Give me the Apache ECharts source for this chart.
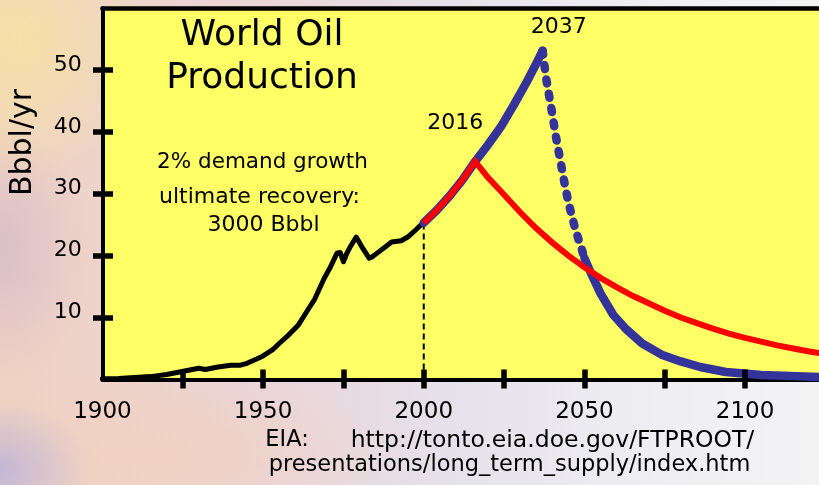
<!DOCTYPE html>
<html>
<head>
<meta charset="utf-8">
<title>World Oil Production</title>
<script src="https://cdn.jsdelivr.net/npm/echarts@6/dist/echarts.min.js"></script>
<style>
  html, body { margin: 0; padding: 0; }
  body {
    width: 819px; height: 485px; overflow: hidden;
    background:
      radial-gradient(ellipse 130px 150px at 20px 40px, rgba(246,226,166,0.95), rgba(246,226,166,0)),
      radial-gradient(ellipse 90px 130px at 0px 250px, rgba(216,188,202,0.9), rgba(216,188,202,0)),
      radial-gradient(ellipse 90px 70px at 0px 470px, rgba(186,178,216,0.85), rgba(186,178,216,0)),
      radial-gradient(ellipse 240px 90px at 150px 455px, rgba(242,210,192,0.9), rgba(242,210,192,0)),
      linear-gradient(90deg, #efd2c2 0%, #ead5d9 32%, #e5e1ea 55%, #eeeef2 78%, #f3f3f4 100%);
  }
  #chart { width: 819px; height: 485px; }
</style>
</head>
<body>
<div id="chart"></div>
<script>
// Historical world oil production, Bbbl/yr
const historyYears = [1900, 1905, 1910, 1915, 1920, 1924, 1928, 1930, 1932, 1936, 1940, 1943, 1945, 1948,
  1950, 1953, 1955, 1958, 1961, 1964, 1966, 1969, 1971, 1973, 1974, 1975, 1976, 1977, 1979, 1981,
  1983, 1984, 1986, 1988, 1990, 1993, 1995, 1997, 1999, 2000];
const historyValues = [0.1, 0.15, 0.3, 0.45, 0.8, 1.2, 1.6, 1.8, 1.6, 2.0, 2.3, 2.3, 2.6, 3.3,
  3.8, 4.8, 5.8, 7.2, 8.8, 11.3, 12.9, 16.3, 18.2, 20.4, 20.5, 19.0, 20.3, 21.3, 23.0, 21.2,
  19.6, 19.8, 20.6, 21.4, 22.2, 22.4, 23.0, 23.9, 24.9, 25.3];

// Projection with 2% demand growth (shared by both scenarios until their peaks)
const growthYears = [2000, 2004, 2008, 2012, 2016, 2020, 2024, 2028, 2032, 2035, 2037];
const growthValues = [25.3, 27.3, 29.6, 32.2, 35.2, 37.9, 40.8, 44.3, 48.0, 51.0, 53.1];

// Early peak (2016) and gradual decline
const redPeakYear = 2016;
const redDeclineYears = [2020, 2024, 2030, 2035, 2040, 2045, 2050, 2055, 2060, 2065, 2070, 2075,
  2080, 2085, 2090, 2095, 2100, 2105, 2110, 2115, 2120, 2125];
const redDeclineValues = [32.6, 30.4, 27.0, 24.4, 22.1, 20.0, 18.1, 16.4, 14.9, 13.5, 12.3, 11.1,
  10.0, 9.1, 8.2, 7.4, 6.7, 6.1, 5.5, 5.0, 4.5, 4.1];

// Late peak (2037) and steep decline
const bluePeakYear = 2037;
const blueDeclineYears = [2038, 2039, 2040, 2041, 2042, 2043, 2044, 2045, 2046, 2047, 2048, 2049,
  2050, 2052, 2055, 2059, 2063, 2068, 2074, 2080, 2086, 2094, 2105, 2125];
const blueDeclineValues = [48.9, 45.9, 42.9, 39.6, 36.8, 34.0, 31.2, 28.6, 26.6, 24.6, 22.9, 21.3,
  19.6, 17.2, 13.9, 10.4, 8.1, 5.8, 4.0, 2.9, 2.0, 1.2, 0.7, 0.35];
const blueDashedUntil = 2050;

// Axis ticks and labels
const xTickValues = [1925, 1950, 1975, 2000, 2025, 2050, 2075, 2100];
const xLabelValues = [1900, 1950, 2000, 2050, 2100];
const yTickValues = [10, 20, 30, 40, 50];

const zip = (xs, ys) => xs.map((x, i) => [x, ys[i]]);

const history = zip(historyYears, historyValues);
const growth = zip(growthYears, growthValues);
const red = growth.filter(p => p[0] <= redPeakYear).concat(zip(redDeclineYears, redDeclineValues));
const blueAll = growth.concat(zip(blueDeclineYears, blueDeclineValues));
const blueRise = blueAll.filter(p => p[0] <= bluePeakYear);
const blueDrop = blueAll.filter(p => p[0] >= bluePeakYear && p[0] <= blueDashedUntil);
const blueTail = blueAll.filter(p => p[0] >= blueDashedUntil);
const redPeak = red.find(p => p[0] === redPeakYear);
const bluePeak = blueAll.find(p => p[0] === bluePeakYear);

const FONT = 'DejaVu Sans';
const BLUE = '#333399';
const RED = '#ff0000';

// The plotting area runs off the right edge of the page
const xBase = {
  type: 'value', min: 1900, max: 2123, position: 'bottom',
  splitLine: { show: false }
};
const yBase = {
  type: 'value', min: 0, max: 60, interval: 10, position: 'left',
  splitLine: { show: false }
};

const chart = echarts.init(document.getElementById('chart'), null, { renderer: 'canvas' });
chart.setOption({
  animation: false,
  backgroundColor: 'transparent',
  grid: {
    left: 102.4, top: 8, right: 0, height: 371.4,
    show: true, backgroundColor: '#ffff66', borderWidth: 0
  },
  xAxis: [
    Object.assign({}, xBase, {
      axisLine: { show: true, onZero: false, lineStyle: { color: '#000', width: 4 } },
      axisTick: { show: true, inside: false, length: 9, customValues: xTickValues,
        lineStyle: { color: '#000', width: 5.5 } },
      axisLabel: { show: true, customValues: xLabelValues, margin: 21.5, color: '#000',
        fontFamily: FONT, fontSize: 23, formatter: v => String(v) }
    }),
    Object.assign({}, xBase, {
      z: 10,
      axisLine: { show: false, onZero: false },
      axisTick: { show: true, inside: true, length: 10, customValues: xTickValues,
        lineStyle: { color: '#000', width: 5.5 } },
      axisLabel: { show: false }
    }),
    Object.assign({}, xBase, {
      position: 'top',
      axisLine: { show: true, onZero: false, lineStyle: { color: '#000', width: 4.5 } },
      axisTick: { show: false },
      axisLabel: { show: false }
    })
  ],
  yAxis: [
    Object.assign({}, yBase, {
      axisLine: { show: true, onZero: false, lineStyle: { color: '#000', width: 4 } },
      axisTick: { show: true, inside: false, length: 9.4, customValues: yTickValues,
        lineStyle: { color: '#000', width: 5.5 } },
      axisLabel: { show: true, customValues: yTickValues, margin: 20.7, color: '#000',
        fontFamily: FONT, fontSize: 22, verticalAlign: 'bottom', lineHeight: 10 }
    }),
    Object.assign({}, yBase, {
      z: 10,
      axisLine: { show: false, onZero: false },
      axisTick: { show: true, inside: true, length: 10.6, customValues: yTickValues,
        lineStyle: { color: '#000', width: 5.5 } },
      axisLabel: { show: false }
    })
  ],
  series: [
    {
      name: 'start of projection', type: 'line', silent: true, symbol: 'none',
      data: [[growth[0][0], 0], growth[0]],
      lineStyle: { color: '#000', width: 2, type: [6, 4] }
    },
    {
      name: 'history', type: 'line', symbol: 'none', data: history,
      lineStyle: { color: '#000', width: 5, join: 'round', cap: 'round' }
    },
    {
      name: 'late peak rise', type: 'line', symbol: 'none', data: blueRise,
      lineStyle: { color: BLUE, width: 8.5, join: 'round', cap: 'round' }
    },
    {
      name: 'late peak decline', type: 'line', symbol: 'none', data: blueDrop,
      lineStyle: { color: BLUE, width: 8.5, type: [4, 10.5], cap: 'round', join: 'round' }
    },
    {
      name: 'late peak tail', type: 'line', symbol: 'none', data: blueTail,
      lineStyle: { color: BLUE, width: 8.5, join: 'round', cap: 'round' }
    },
    {
      name: 'early peak', type: 'line', symbol: 'none', data: red,
      lineStyle: { color: RED, width: 6, join: 'miter' }
    },
    {
      name: 'peak years', type: 'scatter', silent: true, symbolSize: 0.1,
      itemStyle: { color: '#000', opacity: 1 },
      label: {
        show: true, position: 'top', distance: 0, color: '#000', opacity: 1,
        fontFamily: FONT, fontSize: 22,
        formatter: p => String(p.value[0])
      },
      data: [
        { value: redPeak, label: { offset: [-20, -27] } },
        { value: bluePeak, label: { offset: [16, -12] } }
      ]
    }
  ],
  graphic: [
    { type: 'text', x: 262, y: 35.5, style: { text: 'World Oil', fill: '#000',
      fontFamily: FONT, fontSize: 36, textAlign: 'center', textVerticalAlign: 'middle' } },
    { type: 'text', x: 262, y: 79, style: { text: 'Production', fill: '#000',
      fontFamily: FONT, fontSize: 36, textAlign: 'center', textVerticalAlign: 'middle' } },
    { type: 'text', x: 262.5, y: 162, style: { text: '2% demand growth', fill: '#000',
      fontFamily: FONT, fontSize: 21.5, textAlign: 'center', textVerticalAlign: 'middle' } },
    { type: 'text', x: 259.5, y: 197, style: { text: 'ultimate recovery:', fill: '#000',
      fontFamily: FONT, fontSize: 22, textAlign: 'center', textVerticalAlign: 'middle' } },
    { type: 'text', x: 263.5, y: 225, style: { text: '3000 Bbbl', fill: '#000',
      fontFamily: FONT, fontSize: 22, textAlign: 'center', textVerticalAlign: 'middle' } },
    { type: 'text', x: 23, y: 142.5, rotation: Math.PI / 2, style: { text: 'Bbbl/yr', fill: '#000',
      fontFamily: FONT, fontSize: 30, textAlign: 'center', textVerticalAlign: 'middle' } },
    { type: 'text', x: 287, y: 440.5, style: { text: 'EIA:', fill: '#000',
      fontFamily: FONT, fontSize: 22.5, textAlign: 'center', textVerticalAlign: 'middle' } },
    { type: 'text', x: 552.5, y: 440.5, style: { text: 'http://tonto.eia.doe.gov/FTPROOT/', fill: '#000',
      fontFamily: FONT, fontSize: 23.5, textAlign: 'center', textVerticalAlign: 'middle' } },
    { type: 'text', x: 509.5, y: 465, style: { text: 'presentations/long_term_supply/index.htm', fill: '#000',
      fontFamily: FONT, fontSize: 22.5, textAlign: 'center', textVerticalAlign: 'middle' } }
  ]
});
</script>
</body>
</html>
